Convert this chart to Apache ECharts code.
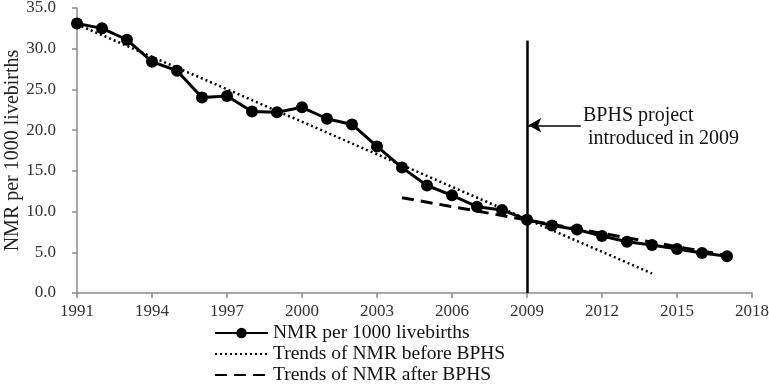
<!DOCTYPE html>
<html>
<head>
<meta charset="utf-8">
<script src="https://cdn.jsdelivr.net/npm/echarts@6/dist/echarts.min.js"></script>
<style>
  html, body { margin: 0; padding: 0; background: #fff; }
  #chart { width: 769px; height: 385px; }
</style>
</head>
<body>
<div id="chart"></div>
<script>
// base year, the x axis counts years from it so ticks fall on 1991, 1994, ...
const baseYear = 1991;
const years = [1991, 1992, 1993, 1994, 1995, 1996, 1997, 1998, 1999, 2000, 2001, 2002, 2003, 2004,
  2005, 2006, 2007, 2008, 2009, 2010, 2011, 2012, 2013, 2014, 2015, 2016, 2017];
const nmr = [33.1, 32.5, 31.1, 28.4, 27.3, 24.0, 24.2, 22.3, 22.2, 22.8, 21.4, 20.7, 18.0, 15.4,
  13.2, 12.0, 10.6, 10.2, 9.0, 8.3, 7.8, 7.0, 6.3, 5.9, 5.4, 4.9, 4.5];
// trend lines (start / end)
const trendBeforeYears = [1991, 2014];
const trendBefore = [33.0, 2.4];
const trendAfterYears = [2004, 2017];
const trendAfter = [11.7, 4.6];
// BPHS introduction
const bphsYear = 2009;
const bphsTop = 31.0;
const arrowLevel = 20.6;
const arrowFrom = 2011.15;

const font = 'Liberation Serif';
const pair = (xs, ys) => xs.map((x, i) => [x - baseYear, ys[i]]);

const chart = echarts.init(document.getElementById('chart'));
chart.setOption({
  animation: false,
  textStyle: { fontFamily: font },
  grid: { left: 77, right: 17, top: 8, bottom: 92, outerBoundsMode: 'none', containLabel: false },
  legend: {
    orient: 'vertical',
    left: 214,
    top: 323,
    padding: 0,
    itemGap: 1,
    itemWidth: 53,
    itemHeight: 13,
    textStyle: { fontFamily: font, fontSize: 19.5, color: '#111' },
    data: [
      { name: 'NMR per 1000 livebirths' },
      { name: 'Trends of NMR before BPHS', itemStyle: { opacity: 0 } },
      { name: 'Trends of NMR after BPHS', itemStyle: { opacity: 0 } }
    ]
  },
  xAxis: {
    type: 'value',
    min: 0,
    max: 27,
    interval: 3,
    splitLine: { show: false },
    axisLine: { lineStyle: { color: '#8a8a8a', width: 1.5 } },
    axisTick: { length: 5, lineStyle: { color: '#8a8a8a', width: 1.5 } },
    axisLabel: {
      fontFamily: font, fontSize: 17, color: '#333', margin: 10,
      formatter: v => String(v + baseYear)
    }
  },
  yAxis: {
    type: 'value',
    min: 0,
    max: 35,
    interval: 5,
    name: 'NMR per 1000 livebirths',
    nameLocation: 'middle',
    nameGap: 54,
    nameMoveOverlap: false,
    nameTextStyle: { fontFamily: font, fontSize: 20, color: '#222' },
    splitLine: { show: false },
    axisLine: { show: true, lineStyle: { color: '#8a8a8a', width: 1.5 } },
    axisTick: { show: true, length: 5, lineStyle: { color: '#8a8a8a', width: 1.5 } },
    axisLabel: {
      fontFamily: font, fontSize: 17, color: '#333', margin: 21,
      formatter: v => v.toFixed(1)
    }
  },
  series: [
    {
      name: 'Trends of NMR before BPHS',
      type: 'line',
      data: pair(trendBeforeYears, trendBefore),
      symbol: 'none',
      color: '#000',
      lineStyle: { color: '#000', width: 2.5, type: [2, 3] },
      z: 2,
      markLine: {
        silent: true,
        symbol: 'none',
        label: { show: false },
        lineStyle: { color: '#000', width: 2.5, type: 'solid' },
        data: [[
          { coord: [bphsYear - baseYear, 0] },
          { coord: [bphsYear - baseYear, bphsTop] }
        ]]
      }
    },
    {
      name: 'Trends of NMR after BPHS',
      type: 'line',
      data: pair(trendAfterYears, trendAfter),
      symbol: 'none',
      color: '#000',
      lineStyle: { color: '#000', width: 3, type: [12, 7] },
      z: 2,
      markLine: {
        silent: true,
        symbol: ['none', 'arrow'],
        symbolSize: [11, 13],
        label: { show: false },
        lineStyle: { color: '#000', width: 1.5, type: 'solid' },
        data: [[
          { coord: [arrowFrom - baseYear, arrowLevel] },
          { coord: [bphsYear - baseYear + 0.05, arrowLevel] }
        ]]
      }
    },
    {
      name: 'NMR per 1000 livebirths',
      type: 'line',
      data: pair(years, nmr),
      symbol: 'circle',
      symbolSize: 12,
      color: '#000',
      itemStyle: { color: '#000' },
      lineStyle: { color: '#000', width: 3 },
      z: 3
    }
  ],
  graphic: [
    {
      type: 'text',
      left: 583,
      top: 106,
      style: { text: 'BPHS project', fontFamily: font, fontSize: 20, fill: '#111' }
    },
    {
      type: 'text',
      left: 588,
      top: 129,
      style: { text: 'introduced in 2009', fontFamily: font, fontSize: 20, fill: '#111' }
    }
  ]
});
</script>
</body>
</html>
